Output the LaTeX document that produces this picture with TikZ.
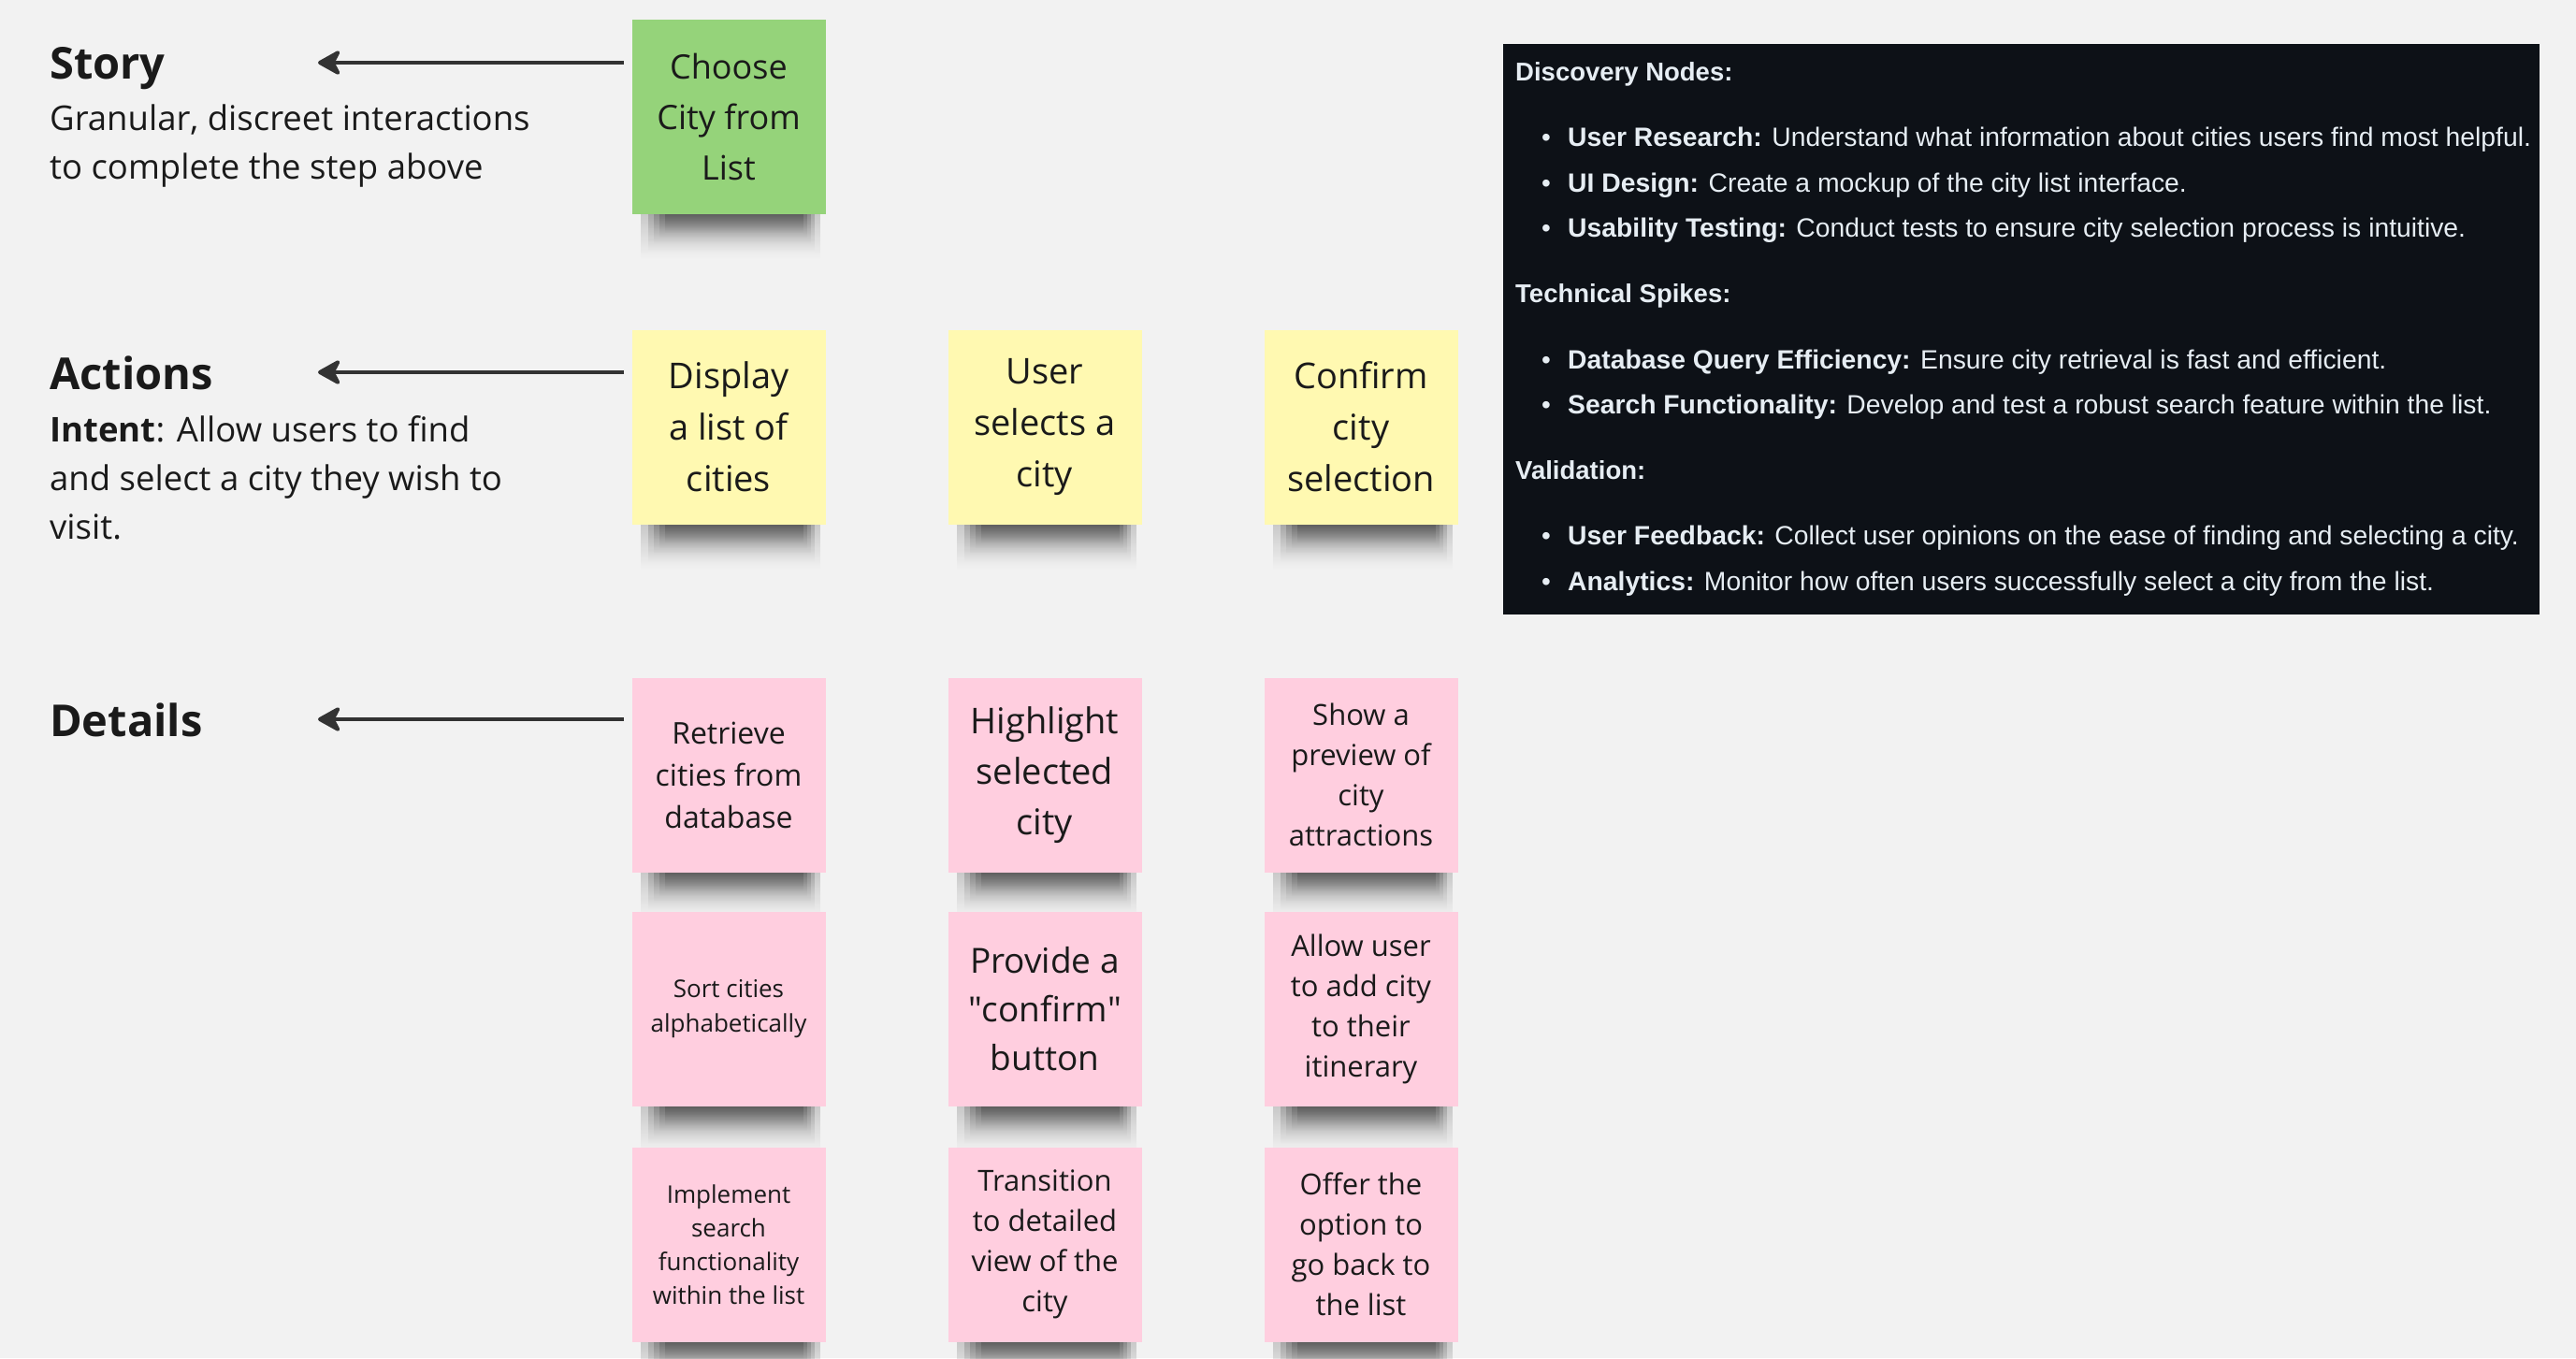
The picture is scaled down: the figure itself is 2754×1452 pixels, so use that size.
\documentclass[tikz,border=0pt]{standalone}
\usepackage{fontspec}
\setmainfont{Open Sans}
\newfontfamily\qfont{Open Sans}[Ligatures=TeXOff]
\newfontfamily\panelfont{Liberation Sans}
\usetikzlibrary{arrows.meta,fadings}
\definecolor{bgc}{HTML}{F2F2F2}
\definecolor{sgreen}{HTML}{95D37A}
\definecolor{syellow}{HTML}{FFF9B1}
\definecolor{spink}{HTML}{FFCEDF}
\definecolor{ink}{HTML}{1A1A1A}
\definecolor{arrowc}{HTML}{333333}
\definecolor{panelbg}{HTML}{0D1117}
\definecolor{paneltxt}{HTML}{E6EDF3}
\newcommand\myfs[2]{\fontsize{#1}{#2}\selectfont}
\newcommand\sq{{\qfont"}}
\pgfdeclarelayer{back}
\pgfdeclarelayer{shadow}
\pgfsetlayers{back,shadow,main}
\begin{document}
\begin{tikzpicture}[x=1pt,y=-1pt,
  sticky/.style={minimum width=207pt, minimum height=208pt, inner sep=0pt, align=center, text=ink},
  gnote/.style={sticky, fill=sgreen},
  ynote/.style={sticky, fill=syellow, font=\myfs{38}{55}},
  pnote/.style={sticky, fill=spink},
  title/.style={anchor=base west, inner sep=0pt, text=ink, font=\myfs{47}{56}\bfseries},
  body/.style={anchor=base west, inner sep=0pt, text=ink, align=left, font=\myfs{36.5}{52}},
  leftarrow/.style={draw=arrowc, line width=4pt, -{Stealth[length=28pt, width=31pt, inset=8pt, round]}},
  ptext/.style={anchor=base west, inner sep=0pt, text=paneltxt, font=\panelfont\myfs{28.3}{32}},
  phead/.style={ptext, font=\panelfont\myfs{27.5}{32}\bfseries},
  pbullet/.style={anchor=base west, inner sep=0pt, text=paneltxt, font=\panelfont\myfs{28}{32}},
  shadowpart/.style={fill=black, opacity=0.17, path fading=south},
]
\begin{pgfonlayer}{back}
\fill[bgc] (0,0) rectangle (2754,1452);
\end{pgfonlayer}
\useasboundingbox (0,0) rectangle (2754,1452);

% left labels (multi-line nodes: base = baseline of last line)
\node[title] (story) at (53,84) {Story};
\node[body] (storytxt) at (53,191) {Granular, discreet interactions\\to complete the step above};
\node[title] (actions) at (53,416) {Actions};
\node[body] (intent) at (53,576) {\textbf{Intent}: Allow users to find\\and select a city they wish to\\visit.};
\node[title] (details) at (53,787) {Details};

% stickies
\node[gnote, font=\myfs{36}{54}] (g1) at (779,124.5) {Choose\\City from\\List};

\node[ynote] (y1) at (779,456.5) {Display\\a list of\\cities};
\node[ynote] (y2) at (1117,456.5) {User\\selects a\\city};
\node[ynote] (y3) at (1455,456.5) {Confirm\\city\\selection};

\node[pnote, font=\myfs{32}{45}] (p11) at (779,828.5) {Retrieve\\cities from\\database};
\node[pnote, font=\myfs{38}{54}] (p12) at (1117,828.5) {Highlight\\selected\\city};
\node[pnote, font=\myfs{31}{43}] (p13) at (1455,828.5) {Show a\\preview of\\city\\attractions};

\node[pnote, font=\myfs{26}{37}] (p21) at (779,1079) {Sort cities\\alphabetically};
\node[pnote, font=\myfs{37}{52}] (p22) at (1117,1079) {Provide a\\\sq confirm\sq\\button};
\node[pnote, font=\myfs{31}{43}] (p23) at (1455,1079) {Allow user\\to add city\\to their\\itinerary};

\node[pnote, font=\myfs{26}{36}] (p31) at (779,1330.5) {Implement\\search\\functionality\\within the list};
\node[pnote, font=\myfs{31}{43}] (p32) at (1117,1330.5) {Transition\\to detailed\\view of the\\city};
\node[pnote, font=\myfs{31}{43}] (p33) at (1455,1330.5) {Offer the\\option to\\go back to\\the list};

% sticky shadows (soft, faded layers)
\begin{pgfonlayer}{shadow}
\foreach \n in {g1,y1,y2,y3,p11,p12,p13,p21,p22,p23,p31,p32,p33}{
  \foreach \h/\l/\r in {48/10/6, 40/18/12, 32/24/16, 26/30/20, 20/36/24}{
    \fill[shadowpart]
      ([xshift=\l pt]\n.south west) rectangle
      ([xshift=-\r pt, yshift=-\h pt]\n.south east);
  }
}
\end{pgfonlayer}

% arrows
\coordinate (s1) at (667,67);  \coordinate (e1) at (340,67);
\coordinate (s2) at (667,398); \coordinate (e2) at (340,398);
\coordinate (s3) at (667,769); \coordinate (e3) at (340,769);
\draw[leftarrow] (s1) -- (e1);
\draw[leftarrow] (s2) -- (e2);
\draw[leftarrow] (s3) -- (e3);

% dark panel
\node[fill=panelbg, draw=none, inner sep=0pt, minimum width=1108pt, minimum height=610pt, anchor=north west] (panel) at (1607,47) {};
\node[phead] (h1) at (1620,86) {Discovery Nodes:};
\node[pbullet] (b1) at (1648,156) {\textbullet};
\node[ptext] (t1) at (1676,156) {\textbf{User Research:} Understand what information about cities users find most helpful.};
\node[pbullet] (b2) at (1648,205) {\textbullet};
\node[ptext] (t2) at (1676,205) {\textbf{UI Design:} Create a mockup of the city list interface.};
\node[pbullet] (b3) at (1648,253) {\textbullet};
\node[ptext] (t3) at (1676,253) {\textbf{Usability Testing:} Conduct tests to ensure city selection process is intuitive.};
\node[phead] (h2) at (1620,323) {Technical Spikes:};
\node[pbullet] (b4) at (1648,394) {\textbullet};
\node[ptext] (t4) at (1676,394) {\textbf{Database Query Efficiency:} Ensure city retrieval is fast and efficient.};
\node[pbullet] (b5) at (1648,442) {\textbullet};
\node[ptext] (t5) at (1676,442) {\textbf{Search Functionality:} Develop and test a robust search feature within the list.};
\node[phead] (h3) at (1620,512) {Validation:};
\node[pbullet] (b6) at (1648,582) {\textbullet};
\node[ptext] (t6) at (1676,582) {\textbf{User Feedback:} Collect user opinions on the ease of finding and selecting a city.};
\node[pbullet] (b7) at (1648,631) {\textbullet};
\node[ptext] (t7) at (1676,631) {\textbf{Analytics:} Monitor how often users successfully select a city from the list.};
\end{tikzpicture}
\end{document}
